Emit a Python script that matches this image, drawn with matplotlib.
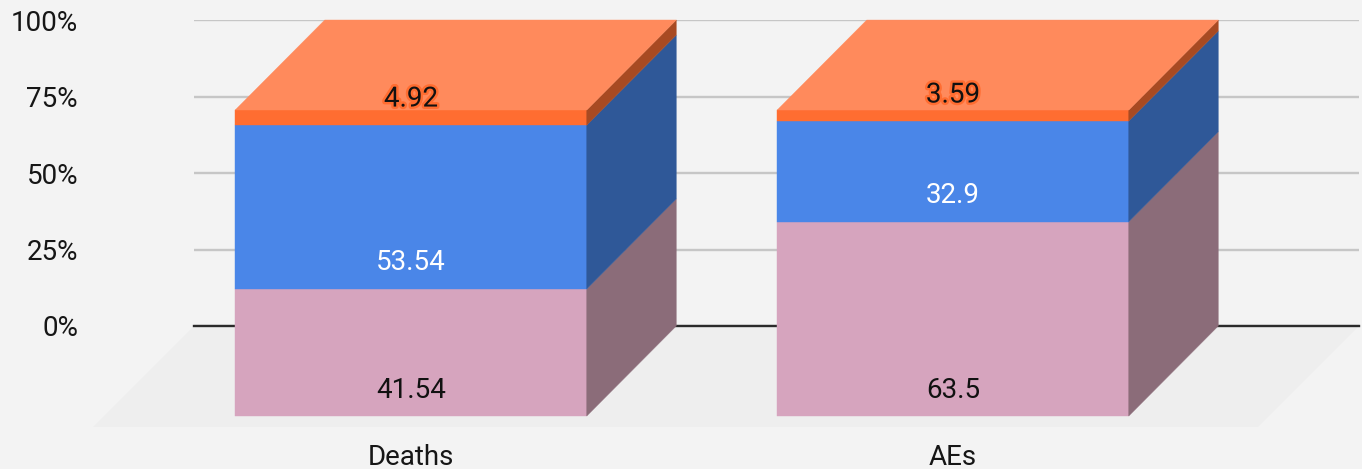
import matplotlib
matplotlib.use("Agg")
import matplotlib.pyplot as plt
import matplotlib.patheffects as pe
from matplotlib.patches import Polygon

categories = ["Deaths", "AEs"]
series_pink = [41.54, 63.5]
series_blue = [53.54, 32.9]
series_orange = [4.92, 3.59]
y_ticks = [0, 25, 50, 75, 100]
y_labels = ["0%", "25%", "50%", "75%", "100%"]

plt.rcParams['font.family'] = ['Roboto', 'DejaVu Sans']

W, H = 1362, 469
BG = "#f3f3f3"
fig = plt.figure(figsize=(W / 100, H / 100), dpi=100, facecolor=BG)
# plot region in pixels
L, R, T, B = 194, 1359, 20, 326
ax = fig.add_axes([L / W, 1 - B / H, (R - L) / W, (B - T) / H], facecolor="none")

PX_X = 542.0            # pixels per category
PX_Y = (B - T) / 100.0  # pixels per percent
FRONT0 = 411.0          # pixel of first category, front face
xl = (L - FRONT0) / PX_X
xr = (R - FRONT0) / PX_X
ax.set_xlim(xl, xr)
ax.set_ylim(0, 100)

dx = 89.5 / PX_X
dy = 90 / PX_Y
w = 351.5 / PX_X

for s in ax.spines.values():
    s.set_visible(False)
ax.set_axisbelow(True)
ax.set_yticks(y_ticks, y_labels)
ax.set_xticks(range(len(categories)), categories)
FS = 20.0
ax.tick_params(axis="y", length=0, pad=83.5, labelsize=FS, labelcolor="#161616")
ax.tick_params(axis="x", length=0, pad=85, labelsize=FS, labelcolor="#161616")
ax.grid(axis="y", color="#c6c6c6", lw=1.7, zorder=1)
ax.grid(axis="x", visible=False)
ax.axhline(0, color="#2a2a2a", lw=1.7, zorder=1.5, clip_on=False)

# floor
fdx, fdy = 101 / PX_X, 101 / PX_Y
ax.add_patch(Polygon([(xl, 0), (xr, 0), (xr - fdx, -fdy), (xl - fdx, -fdy)],
                     closed=True, fc="#eeeeee", ec="none", zorder=0.5, clip_on=False))

layers = [
    (series_pink, "#d6a4be", "#8b6c79", "#111111", None),
    (series_blue, "#4a86e8", "#2f5898", "#ffffff", None),
    (series_orange, "#ff6d31", "#a84a22", "#111111", "#ff6d31"),
]
TOP = "#ff8a5c"
LABEL_OFF = 26 * 0.72  # points above the base of a segment

for i, c in enumerate(categories):
    x0, x1 = i - w / 2, i + w / 2
    base = 0.0
    for vals, front, side, tcol, halo in layers:
        v = vals[i]
        y0, y1 = base - dy, base + v - dy
        ax.add_patch(Polygon([(x0, y0), (x1, y0), (x1, y1), (x0, y1)], closed=True,
                             fc=front, ec=front, lw=0.3, zorder=3, clip_on=False))
        ax.add_patch(Polygon([(x1, y0), (x1 + dx, y0 + dy), (x1 + dx, y1 + dy), (x1, y1)],
                             closed=True, fc=side, ec=side, lw=0.3, zorder=3, clip_on=False))
        base += v
    # top face
    ytop = base - dy
    ax.add_patch(Polygon([(x0, ytop), (x1, ytop), (x1 + dx, base), (x0 + dx, base)],
                         closed=True, fc=TOP, ec=TOP, lw=0.3, zorder=3, clip_on=False))
    # labels
    base = 0.0
    for vals, front, side, tcol, halo in layers:
        v = vals[i]
        t = ax.annotate(f"{v:g}", (i, base - dy), xytext=(0, LABEL_OFF),
                        textcoords="offset points", ha="center", va="center",
                        fontsize=FS, color=tcol, zorder=5, annotation_clip=False)
        if halo:
            t.set_path_effects([pe.withStroke(linewidth=3.5, foreground=halo)])
        base += v

fig.savefig("out.png", dpi=100, facecolor=BG)
